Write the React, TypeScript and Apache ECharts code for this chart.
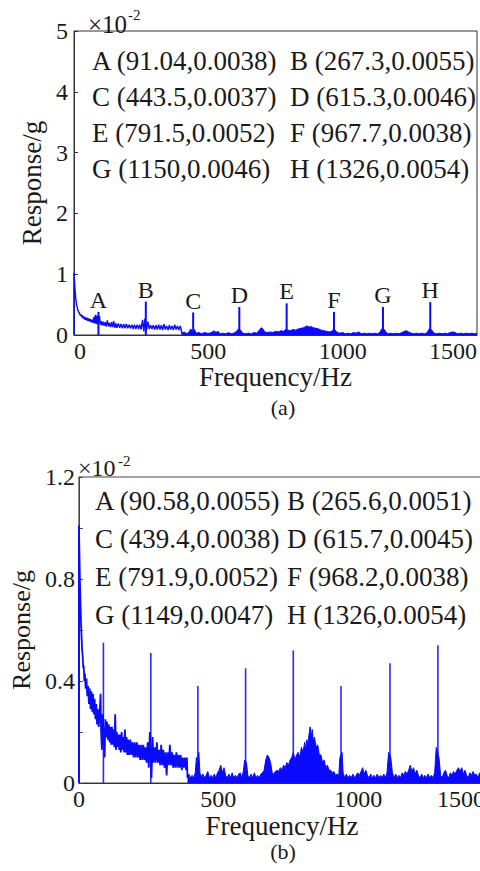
import React, { useEffect, useRef } from "react";
import * as echarts from "echarts";

// ---------- data (response values in units of 1e-2 g) ----------
const peakLetters = ["A", "B", "C", "D", "E", "F", "G", "H"];
const peakFreqA = [91.04, 267.3, 443.5, 615.3, 791.5, 967.7, 1150, 1326];
const peakAmpA = [0.0038, 0.0055, 0.0037, 0.0046, 0.0052, 0.0038, 0.0046, 0.0054];
const peakFreqB = [90.58, 265.6, 439.4, 615.7, 791.9, 968.2, 1149, 1326];
const peakAmpB = [0.0055, 0.0051, 0.0038, 0.0045, 0.0052, 0.0038, 0.0047, 0.0054];

const xTicks = [0, 500, 1000, 1500];
const yLabelsA = [0, 1, 2, 3, 4, 5];
const yLabelsB = [0, 0.4, 0.8, 1.2];

// (a) low-frequency band 0-400 Hz
const specALow = [
  [0, 0], [0, 1.02], [2, 0.88], [4, 0.74], [6, 0.62], [8, 0.55], [10, 0.48], [12, 0.46], [14, 0.41],
  [16, 0.4], [18, 0.36], [20, 0.37], [23, 0.32], [26, 0.34], [29, 0.29], [32, 0.32], [35, 0.27],
  [38, 0.3], [41, 0.25], [44, 0.29], [47, 0.24], [50, 0.28], [53, 0.23], [56, 0.27], [59, 0.22],
  [62, 0.26], [65, 0.21], [68, 0.25], [71, 0.2], [74, 0.3], [77, 0.19], [80, 0.33], [83, 0.18],
  [86, 0.32], [89, 0.17], [95, 0.31], [98, 0.17], [101, 0.23], [104, 0.16], [108, 0.22], [112, 0.15],
  [116, 0.21], [120, 0.14], [124, 0.24], [128, 0.14], [132, 0.2], [136, 0.13], [140, 0.21], [144, 0.13],
  [148, 0.23], [152, 0.12], [156, 0.19], [160, 0.12], [165, 0.19], [170, 0.12], [175, 0.18], [180, 0.11],
  [185, 0.18], [190, 0.11], [195, 0.18], [200, 0.11], [205, 0.17], [210, 0.11], [215, 0.17], [220, 0.1],
  [225, 0.17], [230, 0.1], [235, 0.17], [240, 0.1], [245, 0.17], [250, 0.09], [255, 0.25], [260, 0.06],
  [264, 0.27], [270, 0.08], [275, 0.22], [280, 0.1], [285, 0.16], [290, 0.1], [295, 0.16], [300, 0.09],
  [305, 0.16], [310, 0.09], [315, 0.17], [320, 0.09], [325, 0.16], [330, 0.08], [335, 0.18], [340, 0.09],
  [345, 0.15], [350, 0.08], [355, 0.16], [360, 0.09], [365, 0.15], [370, 0.08], [375, 0.17], [380, 0.09],
  [385, 0.15], [390, 0.08], [395, 0.15], [399, 0.09], [401, 0.02],
];

// (a) 400-1500 Hz
const specAHigh = [
  [401, 0.03], [410, 0.05], [420, 0.02], [430, 0.06], [435, 0.1], [440, 0.04], [448, 0.09], [455, 0.03],
  [465, 0.04], [475, 0.02], [485, 0.04], [495, 0.03], [505, 0.03], [515, 0.05], [522, 0.07], [528, 0.04],
  [535, 0.06], [545, 0.02], [555, 0.03], [565, 0.02], [575, 0.04], [585, 0.02], [595, 0.03], [605, 0.06],
  [612, 0.1], [620, 0.08], [628, 0.03], [640, 0.02], [650, 0.03], [660, 0.02], [670, 0.04], [680, 0.03],
  [690, 0.08], [697, 0.12], [703, 0.1], [710, 0.05], [720, 0.04], [730, 0.05], [740, 0.04], [750, 0.06],
  [760, 0.05], [770, 0.07], [780, 0.06], [788, 0.09], [796, 0.08], [805, 0.07], [815, 0.09], [825, 0.08],
  [835, 0.1], [845, 0.11], [855, 0.12], [862, 0.14], [868, 0.15], [875, 0.13], [882, 0.14], [890, 0.12],
  [900, 0.11], [910, 0.1], [920, 0.08], [930, 0.07], [940, 0.06], [950, 0.05], [960, 0.06], [965, 0.09],
  [972, 0.08], [980, 0.04], [990, 0.03], [1000, 0.04], [1010, 0.02], [1020, 0.03], [1030, 0.02], [1040, 0.04],
  [1050, 0.03], [1060, 0.05], [1070, 0.02], [1080, 0.03], [1090, 0.02], [1100, 0.03], [1110, 0.02], [1120, 0.03],
  [1130, 0.02], [1140, 0.05], [1145, 0.1], [1155, 0.09], [1162, 0.04], [1170, 0.02], [1180, 0.03], [1190, 0.02],
  [1200, 0.03], [1210, 0.02], [1220, 0.04], [1230, 0.06], [1237, 0.07], [1245, 0.05], [1255, 0.03], [1265, 0.02],
  [1275, 0.03], [1285, 0.02], [1295, 0.03], [1305, 0.02], [1315, 0.04], [1322, 0.1], [1332, 0.08], [1340, 0.03],
  [1350, 0.02], [1360, 0.03], [1370, 0.02], [1380, 0.03], [1390, 0.02], [1400, 0.04], [1410, 0.05], [1418, 0.04],
  [1428, 0.02], [1440, 0.03], [1450, 0.02], [1460, 0.03], [1470, 0.02], [1480, 0.03], [1490, 0.02], [1500, 0.03],
];

// (b) low-frequency band 0-400 Hz
const specBLow = [
  [0, 0], [0, 1.01], [2, 0.9], [4, 0.78], [6, 0.7], [8, 0.62], [10, 0.57], [12, 0.52], [14, 0.5],
  [16, 0.45], [18, 0.46], [20, 0.4], [22, 0.43], [25, 0.37], [28, 0.41], [31, 0.34], [34, 0.38],
  [37, 0.31], [40, 0.37], [43, 0.29], [46, 0.36], [49, 0.28], [52, 0.35], [55, 0.27], [58, 0.33],
  [61, 0.25], [64, 0.31], [67, 0.23], [70, 0.29], [73, 0.22], [77, 0.28], [80, 0.35], [82, 0.2],
  [85, 0.13], [88, 0.27], [95, 0.1], [98, 0.25], [101, 0.18], [104, 0.24], [107, 0.17], [110, 0.23],
  [113, 0.16], [116, 0.22], [119, 0.15], [122, 0.22], [125, 0.15], [128, 0.21], [131, 0.14], [134, 0.27],
  [137, 0.13], [140, 0.2], [143, 0.14], [146, 0.19], [149, 0.13], [152, 0.19], [155, 0.12], [158, 0.2],
  [161, 0.13], [164, 0.18], [167, 0.12], [170, 0.21], [173, 0.12], [176, 0.18], [179, 0.11], [182, 0.17],
  [186, 0.11], [190, 0.17], [194, 0.11], [198, 0.16], [202, 0.1], [206, 0.16], [210, 0.1], [214, 0.16],
  [218, 0.1], [222, 0.15], [226, 0.09], [230, 0.15], [234, 0.09], [238, 0.15], [242, 0.09], [246, 0.14],
  [250, 0.08], [254, 0.16], [258, 0.06], [262, 0.2], [268, 0.02], [272, 0.18], [276, 0.08], [280, 0.14],
  [284, 0.08], [288, 0.16], [292, 0.08], [296, 0.13], [300, 0.07], [304, 0.15], [308, 0.07], [312, 0.13],
  [316, 0.06], [320, 0.12], [324, 0.03], [328, 0.12], [332, 0.07], [336, 0.15], [340, 0.07], [344, 0.12],
  [348, 0.06], [352, 0.11], [356, 0.06], [360, 0.12], [364, 0.06], [368, 0.11], [372, 0.06], [376, 0.11],
  [380, 0.05], [384, 0.1], [388, 0.06], [392, 0.1], [396, 0.05], [399, 0.1], [401, 0.02],
];

// (b) 400-1500 Hz
const specBHigh = [
  [401, 0.02], [406, 0.035], [412, 0.02], [418, 0.03], [424, 0.02], [430, 0.04], [434, 0.1], [437, 0.06],
  [443, 0.12], [447, 0.04], [452, 0.025], [458, 0.035], [464, 0.02], [470, 0.03], [476, 0.045], [482, 0.02],
  [488, 0.03], [494, 0.02], [500, 0.035], [506, 0.02], [512, 0.04], [518, 0.05], [524, 0.07], [530, 0.04],
  [536, 0.06], [542, 0.03], [548, 0.02], [554, 0.035], [560, 0.02], [566, 0.04], [572, 0.02], [578, 0.03],
  [584, 0.02], [590, 0.035], [596, 0.04], [602, 0.02], [608, 0.05], [612, 0.09], [619, 0.08], [624, 0.03],
  [630, 0.02], [636, 0.035], [642, 0.02], [648, 0.04], [654, 0.02], [660, 0.03], [666, 0.02], [672, 0.035],
  [678, 0.04], [684, 0.05], [690, 0.09], [696, 0.11], [702, 0.1], [708, 0.08], [714, 0.04], [720, 0.035],
  [726, 0.045], [732, 0.05], [738, 0.045], [744, 0.06], [750, 0.05], [756, 0.07], [762, 0.06], [768, 0.08],
  [774, 0.07], [780, 0.09], [786, 0.1], [792, 0.12], [798, 0.09], [804, 0.11], [810, 0.12], [816, 0.1],
  [822, 0.14], [828, 0.12], [834, 0.16], [838, 0.13], [842, 0.17], [846, 0.15], [850, 0.19], [854, 0.22],
  [858, 0.18], [862, 0.21], [866, 0.16], [870, 0.18], [876, 0.14], [882, 0.15], [888, 0.11], [894, 0.11],
  [900, 0.08], [906, 0.09], [912, 0.06], [918, 0.07], [924, 0.05], [930, 0.05], [936, 0.04], [942, 0.045],
  [948, 0.03], [954, 0.035], [960, 0.03], [964, 0.1], [972, 0.12], [976, 0.04], [982, 0.02], [988, 0.035],
  [994, 0.02], [1000, 0.03], [1006, 0.02], [1012, 0.035], [1018, 0.02], [1024, 0.03], [1030, 0.04], [1036, 0.03],
  [1042, 0.045], [1048, 0.06], [1054, 0.035], [1060, 0.05], [1066, 0.03], [1072, 0.02], [1078, 0.035], [1084, 0.02],
  [1090, 0.03], [1096, 0.02], [1102, 0.035], [1108, 0.02], [1114, 0.03], [1120, 0.02], [1126, 0.035], [1132, 0.02],
  [1138, 0.04], [1144, 0.12], [1152, 0.1], [1158, 0.04], [1164, 0.02], [1170, 0.035], [1176, 0.02], [1182, 0.03],
  [1188, 0.02], [1194, 0.04], [1200, 0.03], [1206, 0.045], [1212, 0.035], [1218, 0.05], [1224, 0.07], [1230, 0.045],
  [1236, 0.06], [1242, 0.035], [1248, 0.05], [1254, 0.03], [1260, 0.02], [1266, 0.035], [1272, 0.02], [1278, 0.03],
  [1284, 0.02], [1290, 0.035], [1296, 0.02], [1302, 0.03], [1308, 0.02], [1314, 0.04], [1320, 0.14], [1330, 0.1],
  [1336, 0.03], [1342, 0.02], [1348, 0.04], [1354, 0.05], [1360, 0.03], [1366, 0.02], [1372, 0.04], [1378, 0.03],
  [1384, 0.045], [1390, 0.035], [1396, 0.05], [1402, 0.06], [1408, 0.045], [1414, 0.06], [1420, 0.035], [1426, 0.05],
  [1432, 0.03], [1438, 0.02], [1444, 0.04], [1450, 0.03], [1456, 0.045], [1462, 0.03], [1468, 0.035], [1474, 0.02],
  [1480, 0.04], [1486, 0.03], [1492, 0.045], [1500, 0.03],
];

// ---------- styling ----------
const SERIF = "Liberation Serif";
const INK = "#1a1a1a";
const BLUE = "#0a0aff";

const annotation = (freq: number[], amp: number[]) =>
  peakLetters.map((l, i) => `${l} (${freq[i]},${amp[i]})`);

export default function App() {
  const ref = useRef<HTMLDivElement>(null);

  useEffect(() => {
    const chart = echarts.init(ref.current!, null, { renderer: "svg" });

    const annA = annotation(peakFreqA, peakAmpA);
    const annB = annotation(peakFreqB, peakAmpB);
    const rowsA = [61, 97, 133, 169];
    const rowsB = [501, 539, 577, 615];

    const annTexts: any[] = [];
    annA.forEach((t, i) => {
      annTexts.push({
        type: "text",
        x: i % 2 === 0 ? 92 : 290,
        y: rowsA[Math.floor(i / 2)],
        style: { text: t, fontSize: 27, fontFamily: SERIF, fill: INK, align: "left", verticalAlign: "middle" },
      });
    });
    annB.forEach((t, i) => {
      annTexts.push({
        type: "text",
        x: i % 2 === 0 ? 95 : 287,
        y: rowsB[Math.floor(i / 2)],
        style: { text: t, fontSize: 27, fontFamily: SERIF, fill: INK, align: "left", verticalAlign: "middle" },
      });
    });

    const textStyle = { fontFamily: SERIF, color: INK };
    const tickRich = {
      m1: { fontSize: 24, fontFamily: SERIF, color: INK, padding: [0, 0, 0, 8] },
      m2: { fontSize: 24, fontFamily: SERIF, color: INK, padding: [0, 0, 0, 17] },
    };

    const xAxisBase = (gridIndex: number, gap: number, minAlign: string, shifted: boolean) => ({
      gridIndex,
      type: "value",
      min: 0,
      max: 1500,
      interval: 500,
      name: "Frequency/Hz",
      nameLocation: "middle",
      nameGap: gap,
      nameTextStyle: { ...textStyle, fontSize: 27 },
      axisLine: { show: true, lineStyle: { color: "#333", width: 1 } },
      axisTick: { show: false },
      splitLine: { show: false },
      axisLabel: {
        ...textStyle,
        fontSize: 24,
        margin: 4,
        alignMinLabel: minAlign,
        alignMaxLabel: "right",
        rich: tickRich,
        formatter: (v: number) => {
          if (!xTicks.includes(v)) return "";
          if (shifted && v === xTicks[1]) return `{m1|${v}}`;
          if (shifted && v === xTicks[2]) return `{m2|${v}}`;
          return String(v);
        },
      },
    });

    const option: any = {
      animation: false,
      backgroundColor: "#ffffff",
      textStyle: { fontFamily: SERIF },
      grid: [
        { left: 74, top: 31, width: 403, height: 304, show: true, borderColor: "#333", borderWidth: 1 },
        { left: 72, top: 477, width: 413, height: 306, show: true, borderColor: "#444", borderWidth: 1 },
      ],
      xAxis: [xAxisBase(0, 24, "left", false), xAxisBase(1, 29, "center", true)],
      yAxis: [
        {
          gridIndex: 0,
          type: "value",
          min: 0,
          max: 5,
          interval: 1,
          name: "Response/g",
          nameLocation: "middle",
          nameGap: 19,
          nameTextStyle: { ...textStyle, fontSize: 27 },
          axisLine: { show: true, lineStyle: { color: "#333", width: 1 } },
          axisTick: { show: true, inside: true, length: 4, lineStyle: { color: "#333" } },
          splitLine: { show: false },
          axisLabel: {
            ...textStyle,
            fontSize: 24,
            margin: 6,
            formatter: (v: number) => (yLabelsA.includes(v) ? String(v) : ""),
          },
        },
        {
          gridIndex: 1,
          type: "value",
          min: 0,
          max: 1.2,
          interval: 0.2,
          name: "Response/g",
          nameLocation: "middle",
          nameGap: 38,
          nameTextStyle: { ...textStyle, fontSize: 26 },
          axisLine: { show: true, lineStyle: { color: "#444", width: 1 } },
          axisTick: { show: true, inside: true, length: 4, lineStyle: { color: "#444" } },
          splitLine: { show: false },
          axisLabel: {
            ...textStyle,
            fontSize: 24,
            margin: 4,
            formatter: (v: number) => {
              const r = Math.round(v * 10) / 10;
              return yLabelsB.some((l) => Math.abs(l - r) < 1e-6) ? String(r) : "";
            },
          },
        },
      ],
      series: [
        {
          type: "line",
          xAxisIndex: 0,
          yAxisIndex: 0,
          data: specALow,
          showSymbol: false,
          silent: true,
          lineStyle: { color: BLUE, width: 1.4 },
        },
        {
          type: "line",
          xAxisIndex: 0,
          yAxisIndex: 0,
          data: specAHigh,
          showSymbol: false,
          silent: true,
          lineStyle: { color: BLUE, width: 1 },
          areaStyle: { color: BLUE, opacity: 1 },
        },
        {
          type: "bar",
          xAxisIndex: 0,
          yAxisIndex: 0,
          data: peakFreqA.map((f, i) => [f, peakAmpA[i] * 100]),
          barWidth: 2,
          silent: true,
          itemStyle: { color: BLUE },
          label: {
            show: true,
            position: "top",
            distance: 0,
            fontSize: 24,
            fontFamily: SERIF,
            color: INK,
            formatter: (p: any) => peakLetters[p.dataIndex],
          },
        },
        {
          type: "line",
          xAxisIndex: 1,
          yAxisIndex: 1,
          data: specBLow,
          showSymbol: false,
          silent: true,
          lineStyle: { color: BLUE, width: 1.8 },
        },
        {
          type: "line",
          xAxisIndex: 1,
          yAxisIndex: 1,
          data: specBHigh,
          showSymbol: false,
          silent: true,
          lineStyle: { color: BLUE, width: 1 },
          areaStyle: { color: BLUE, opacity: 1 },
        },
        {
          type: "bar",
          xAxisIndex: 1,
          yAxisIndex: 1,
          data: peakFreqB.map((f, i) => [f, peakAmpB[i] * 100]),
          barWidth: 1.6,
          silent: true,
          itemStyle: { color: "#2a2aff" },
        },
      ],
      graphic: [
        ...annTexts,
        { type: "text", x: 88, y: 24, style: { text: "×10", fontSize: 25, fontFamily: SERIF, fill: INK, align: "left", verticalAlign: "middle" } },
        { type: "text", x: 128, y: 15, style: { text: "-2", fontSize: 15, fontFamily: SERIF, fill: INK, align: "left", verticalAlign: "middle" } },
        { type: "text", x: 78, y: 468, style: { text: "×10", fontSize: 24, fontFamily: SERIF, fill: INK, align: "left", verticalAlign: "middle" } },
        { type: "text", x: 118, y: 461, style: { text: "-2", fontSize: 15, fontFamily: SERIF, fill: INK, align: "left", verticalAlign: "middle" } },
        { type: "text", x: 283, y: 407, style: { text: "(a)", fontSize: 22, fontFamily: SERIF, fill: INK, align: "center", verticalAlign: "middle" } },
        { type: "text", x: 283, y: 851, style: { text: "(b)", fontSize: 22, fontFamily: SERIF, fill: INK, align: "center", verticalAlign: "middle" } },
      ],
    };

    chart.setOption(option);
    return () => chart.dispose();
  }, []);

  return (
    <div style={{ position: "absolute", left: 0, top: 0, width: 480, height: 871, overflow: "hidden", background: "#fff" }}>
      <div ref={ref} style={{ position: "absolute", left: 0, top: 0, width: 496, height: 871 }} />
    </div>
  );
}
